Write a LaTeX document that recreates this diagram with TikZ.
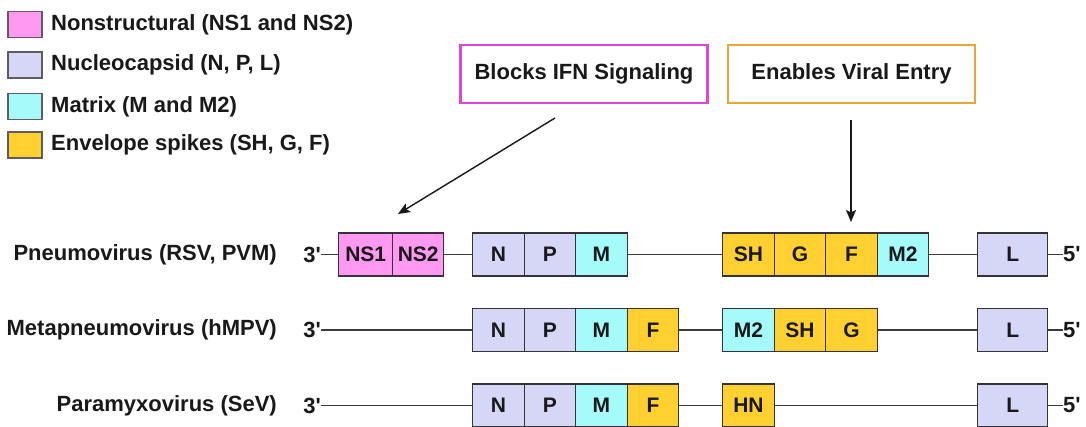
\documentclass[tikz,border=0pt]{standalone}
\usepackage{fontspec}
\setmainfont{Liberation Sans}
\usetikzlibrary{arrows.meta}
\definecolor{nsfill}{RGB}{255,153,242}
\definecolor{ncfill}{RGB}{214,214,247}
\definecolor{mxfill}{RGB}{165,250,250}
\definecolor{envfill}{RGB}{255,208,48}
\definecolor{edgec}{RGB}{55,50,55}
\definecolor{magbox}{RGB}{222,70,222}
\definecolor{orbox}{RGB}{232,168,56}
\definecolor{txt}{RGB}{25,25,25}
\tikzset{
  lbl/.style={font=\fontsize{22}{25}\selectfont\bfseries, text=txt, inner sep=0pt},
  gene/.style={draw=edgec, line width=1.4pt, minimum height=43pt, inner sep=0pt,
    font=\fontsize{21}{24}\selectfont\bfseries, text=txt, anchor=west},
  legsq/.style={draw=edgec!80, line width=1.2pt, minimum width=34pt, minimum height=26pt, inner sep=0pt},
  wire/.style={draw=txt!85, line width=1.3pt},
  callout/.style={line width=2.6pt, fill=white, minimum width=247pt, minimum height=58pt,
    font=\fontsize{22}{25}\selectfont\bfseries, text=txt},
  pointer/.style={draw=txt, line width=1.4pt, -{Stealth[length=12pt,width=10pt,inset=2.5pt]}}
}
\newcommand{\pr}{\textquotesingle}
\begin{document}
\begin{tikzpicture}[x=1pt,y=-1pt]
\clip (0,0) rectangle (1086,426);
\fill[white] (0,0) rectangle (1086,426);

% legend
\node[legsq, fill=nsfill] (lg1) at (25,24.5) {};
\node[legsq, fill=ncfill] (lg2) at (25,65) {};
\node[legsq, fill=mxfill] (lg3) at (25,106.5) {};
\node[legsq, fill=envfill] (lg4) at (25,145) {};
\node[lbl, anchor=west] (lt1) at (51,24.5) {Nonstructural (NS1 and NS2)};
\node[lbl, anchor=west] (lt2) at (51,65) {Nucleocapsid (N, P, L)};
\node[lbl, anchor=west] (lt3) at (51,106.5) {Matrix (M and M2)};
\node[lbl, anchor=west] (lt4) at (51,145) {Envelope spikes (SH, G, F)};

% callouts
\node[callout, draw=magbox] (blocks) at (584,74) {Blocks IFN Signaling};
\node[callout, draw=orbox] (entry) at (851.5,74) {Enables Viral Entry};
\coordinate (a1s) at (555,118);
\coordinate (a1e) at (398,214);
\coordinate (a2s) at (851,120);
\coordinate (a2e) at (851,222);
\draw[pointer] (a1s) -- (a1e);
\draw[pointer] (a2s) -- (a2e);

% row labels
\node[lbl, anchor=east] (v1) at (277,254.5) {Pneumovirus (RSV, PVM)};
\node[lbl, anchor=east] (v2) at (277,330) {Metapneumovirus (hMPV)};
\node[lbl, anchor=east] (v3) at (277,405.5) {Paramyxovirus (SeV)};

% ---------- row 1
\node[lbl, anchor=east] (r1a) at (321,254.5) {3\pr};
\node[gene, fill=nsfill, minimum width=54pt] (r1ns1) at (338,254.5) {NS1};
\node[gene, fill=nsfill, minimum width=51pt] (r1ns2) at (392,254.5) {NS2};
\node[gene, fill=ncfill, minimum width=51.5pt] (r1n) at (472,254.5) {N};
\node[gene, fill=ncfill, minimum width=51.5pt] (r1p) at (523.5,254.5) {P};
\node[gene, fill=mxfill, minimum width=51.5pt] (r1m) at (575,254.5) {M};
\node[gene, fill=envfill, minimum width=51.5pt] (r1sh) at (722,254.5) {SH};
\node[gene, fill=envfill, minimum width=51.5pt] (r1g) at (773.5,254.5) {G};
\node[gene, fill=envfill, minimum width=51.5pt] (r1f) at (825,254.5) {F};
\node[gene, fill=mxfill, minimum width=51.5pt] (r1m2) at (876.5,254.5) {M2};
\node[gene, fill=ncfill, minimum width=70pt] (r1l) at (977,254.5) {L};
\node[lbl, anchor=west] (r1b) at (1063,254.5) {5\pr};
\draw[wire] (r1a.east) -- (r1ns1.west);
\draw[wire] (r1ns2.east) -- (r1n.west);
\draw[wire] (r1m.east) -- (r1sh.west);
\draw[wire] (r1m2.east) -- (r1l.west);
\draw[wire] (r1l.east) -- (r1b.west);

% ---------- row 2
\node[lbl, anchor=east] (r2a) at (321,330) {3\pr};
\node[gene, fill=ncfill, minimum width=51.5pt] (r2n) at (472,330) {N};
\node[gene, fill=ncfill, minimum width=51.5pt] (r2p) at (523.5,330) {P};
\node[gene, fill=mxfill, minimum width=51.5pt] (r2m) at (575,330) {M};
\node[gene, fill=envfill, minimum width=51.5pt] (r2f) at (626.5,330) {F};
\node[gene, fill=mxfill, minimum width=51.5pt] (r2m2) at (722,330) {M2};
\node[gene, fill=envfill, minimum width=51.5pt] (r2sh) at (773.5,330) {SH};
\node[gene, fill=envfill, minimum width=51.5pt] (r2g) at (825,330) {G};
\node[gene, fill=ncfill, minimum width=70pt] (r2l) at (977,330) {L};
\node[lbl, anchor=west] (r2b) at (1063,330) {5\pr};
\draw[wire] (r2a.east) -- (r2n.west);
\draw[wire] (r2f.east) -- (r2m2.west);
\draw[wire] (r2g.east) -- (r2l.west);
\draw[wire] (r2l.east) -- (r2b.west);

% ---------- row 3
\node[lbl, anchor=east] (r3a) at (321,405.5) {3\pr};
\node[gene, fill=ncfill, minimum width=51.5pt] (r3n) at (472,405.5) {N};
\node[gene, fill=ncfill, minimum width=51.5pt] (r3p) at (523.5,405.5) {P};
\node[gene, fill=mxfill, minimum width=51.5pt] (r3m) at (575,405.5) {M};
\node[gene, fill=envfill, minimum width=51.5pt] (r3f) at (626.5,405.5) {F};
\node[gene, fill=envfill, minimum width=51.5pt] (r3hn) at (722,405.5) {HN};
\node[gene, fill=ncfill, minimum width=70pt] (r3l) at (977,405.5) {L};
\node[lbl, anchor=west] (r3b) at (1063,405.5) {5\pr};
\draw[wire] (r3a.east) -- (r3n.west);
\draw[wire] (r3f.east) -- (r3hn.west);
\draw[wire] (r3hn.east) -- (r3l.west);
\draw[wire] (r3l.east) -- (r3b.west);
\end{tikzpicture}
\end{document}
